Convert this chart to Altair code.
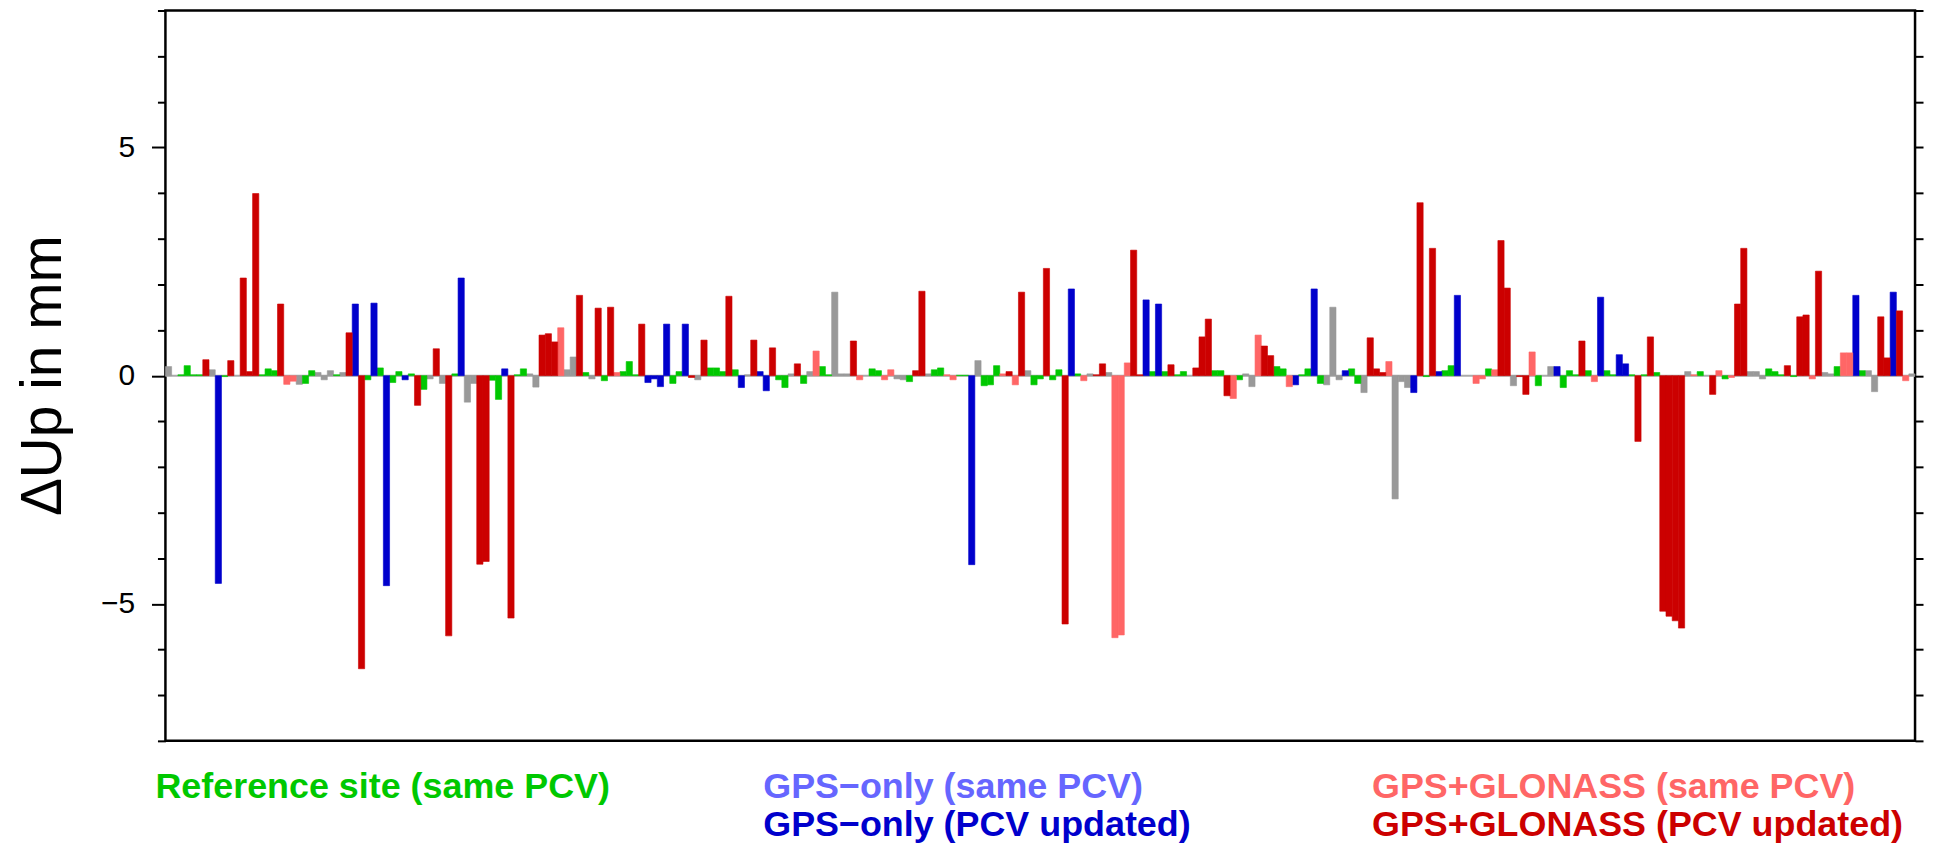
import altair as alt
import pandas as pd

N_SLOTS = 281

# --- series data: slot index along the x axis and ΔUp value (mm) ---
gray_slot = [0, 7, 21, 24, 25, 26, 28, 42, 44, 48, 49, 58, 59, 64, 65, 68, 85, 93, 100, 103,
             107, 108, 109, 117, 118, 122, 130, 138, 148, 151, 173, 174, 186, 187, 188, 192,
             197, 198, 199, 216, 222, 244, 254, 255, 256, 266, 267, 273, 274, 280]
gray_val = [0.20, 0.13, -0.19, 0.07, -0.09, 0.11, 0.07, -0.07, -0.17, -0.58, -0.17, 0.04, -0.25,
            0.13, 0.41, -0.07, -0.09, 0.02, 0.04, 0.09, 1.83, 0.04, 0.04, -0.07, -0.09, 0.04,
            0.33, 0.11, 0.04, 0.07, 0.04, -0.24, -0.20, 1.50, -0.09, -0.37, -2.70, -0.13, -0.26,
            -0.22, 0.20, 0.09, 0.09, 0.09, -0.07, 0.07, 0.04, 0.11, -0.35, 0.04]

ref_slot = [2, 3, 4, 5, 9, 15, 16, 17, 22, 23, 27, 32, 34, 36, 37, 39, 41, 46, 52, 53, 56, 57,
            67, 70, 73, 74, 75, 81, 82, 87, 88, 89, 91, 98, 99, 102, 105, 106, 113, 114, 119,
            123, 124, 127, 128, 131, 132, 133, 139, 140, 142, 143, 146, 158, 160, 162, 163,
            168, 169, 172, 178, 179, 182, 183, 185, 190, 191, 202, 205, 206, 212, 220, 224,
            225, 226, 228, 231, 232, 235, 237, 239, 246, 250, 257, 258, 259, 261, 268, 272]
ref_val = [0.02, 0.22, 0.02, 0.02, -0.02, 0.02, 0.15, 0.11, -0.17, 0.11, 0.02, -0.09, 0.17,
           -0.15, 0.09, 0.04, -0.30, 0.04, -0.10, -0.52, 0.02, 0.15, 0.07, -0.11, 0.09, 0.31,
           0.02, -0.17, 0.09, 0.17, 0.17, 0.09, 0.13, -0.09, -0.26, -0.17, 0.20, 0.02, 0.15,
           0.11, -0.13, 0.13, 0.17, 0.01, 0.01, -0.22, -0.20, 0.22, -0.20, -0.07, -0.09, 0.13,
           0.04, 0.09, 0.09, 0.02, 0.09, 0.11, 0.11, -0.09, 0.20, 0.15, 0.02, 0.15, -0.17,
           0.15, -0.17, -0.02, 0.11, 0.22, 0.15, -0.22, -0.26, 0.11, 0.02, 0.11, 0.11, 0.02,
           0.02, 0.02, 0.07, 0.09, -0.07, 0.15, 0.09, 0.02, -0.02, 0.20, 0.11]

gps_upd_slot = [8, 30, 33, 35, 38, 47, 54, 77, 78, 79, 80, 83, 92, 95, 96, 129, 145, 157, 159,
                181, 184, 189, 200, 204, 207, 223, 230, 233, 234, 271, 277]
gps_upd_val = [-4.55, 1.57, 1.59, -4.60, -0.09, 2.14, 0.15, -0.15, -0.07, -0.24, 1.13, 1.13,
               -0.26, 0.09, -0.33, -4.14, 1.90, 1.66, 1.57, -0.20, 1.90, 0.11, -0.37, 0.09,
               1.76, 0.20, 1.72, 0.46, 0.26, 1.76, 1.83]

glo_same_slot = [19, 20, 63, 72, 104, 111, 115, 116, 125, 126, 134, 136, 147, 152, 153, 154,
                 171, 175, 180, 196, 210, 211, 213, 219, 229, 245, 249, 251, 264, 269, 270, 279]
glo_same_val = [-0.19, -0.12, 1.05, 0.07, 0.54, -0.09, -0.09, 0.13, 0.02, -0.09, 0.04, -0.20,
                -0.11, -5.74, -5.68, 0.28, -0.50, 0.89, -0.24, 0.31, -0.17, -0.07, 0.13, 0.52,
                -0.13, 0.02, 0.11, -0.04, -0.07, 0.50, 0.50, -0.11]

glo_upd_slot = [6, 10, 12, 13, 14, 18, 29, 31, 40, 43, 45, 50, 51, 55, 60, 61, 62, 66, 69, 71,
                76, 84, 86, 90, 94, 97, 101, 110, 120, 121, 135, 137, 141, 144, 149, 150, 155,
                156, 161, 165, 166, 167, 170, 176, 177, 193, 194, 195, 201, 203, 214, 215, 217,
                218, 227, 236, 238, 240, 241, 242, 243, 248, 252, 253, 260, 262, 263, 265, 275,
                276, 278]
glo_upd_val = [0.35, 0.33, 2.14, 0.09, 3.99, 1.57, 0.94, -6.42, -0.65, 0.59, -5.70, -4.13,
               -4.07, -5.31, 0.89, 0.92, 0.74, 1.76, 1.48, 1.50, 1.13, -0.04, 0.78, 1.74, 0.78,
               0.61, 0.26, 0.76, 0.11, 1.85, 0.09, 1.83, 2.35, -5.44, 0.02, 0.26, 2.75, 0.02,
               0.24, 0.17, 0.85, 1.24, -0.44, 0.65, 0.44, 0.83, 0.15, 0.07, 3.79, 2.79, 2.96,
               1.92, -0.02, -0.41, 0.76, -1.44, 0.85, -5.16, -5.27, -5.37, -5.53, -0.41, 1.57,
               2.79, 0.22, 1.29, 1.33, 2.29, 1.29, 0.39, 1.42]

series_names = ["Other", "Reference site (same PCV)", "GPS−only (same PCV)",
                "GPS−only (PCV updated)", "GPS+GLONASS (same PCV)", "GPS+GLONASS (PCV updated)"]
series_colors = ["#999999", "#00c800", "#6666ff", "#0000cc", "#ff6666", "#cc0000"]

y_ticks = list(range(-8, 9))

series_data = [
    (series_names[0], gray_slot, gray_val),
    (series_names[1], ref_slot, ref_val),
    (series_names[3], gps_upd_slot, gps_upd_val),
    (series_names[4], glo_same_slot, glo_same_val),
    (series_names[5], glo_upd_slot, glo_upd_val),
]
rows = []
for name, slots, vals in series_data:
    for s, v in zip(slots, vals):
        rows.append({"slot": s, "series": name, "value": v})
df = pd.DataFrame(rows)

yscale = alt.Scale(domain=[-8, 8], nice=False, zero=False)
cscale = alt.Scale(domain=series_names, range=series_colors)
FONT = "Liberation Sans"

zero = alt.Chart(pd.DataFrame({"y": [0]})).mark_rule(color="#aaaaaa", strokeWidth=2).encode(
    y=alt.Y("y:Q", scale=yscale,
            axis=alt.Axis(orient="right", values=y_ticks, labels=False, tickSize=8,
                          title=None, domain=False, tickColor="black", tickWidth=2))
)

bars = alt.Chart(df).transform_calculate(slot_end="datum.slot + 1").mark_bar(
    strokeWidth=0.6
).encode(
    x=alt.X("slot:Q", scale=alt.Scale(domain=[0, N_SLOTS], nice=False, zero=False), axis=None),
    x2="slot_end:Q",
    y=alt.Y("value:Q", scale=yscale,
            axis=alt.Axis(orient="left", values=y_ticks,
                          labelExpr="(datum.value == 0 || abs(datum.value) == 5) ? datum.label : ''",
                          tickSize={"condition": {"test": "datum.value % 5 == 0", "value": 14}, "value": 8},
                          labelFont=FONT, labelFontSize=30, labelPadding=17, labelColor="black",
                          tickColor="black", tickWidth=2, domain=False,
                          title="ΔUp in mm", titleFont=FONT, titleFontSize=57,
                          titleFontWeight="normal", titleColor="black", titleAngle=270,
                          titleX=-105, titleY=366, titleAlign="center",
                          titleBaseline="alphabetic")),
    y2=alt.datum(0),
    color=alt.Color("series:N", scale=cscale, legend=None),
    stroke=alt.Stroke("series:N", scale=cscale, legend=None),
)

legend_pos = {
    series_names[1]: (-10, 790),
    series_names[2]: (600, 790),
    series_names[3]: (600, 828),
    series_names[4]: (1211, 790),
    series_names[5]: (1211, 828),
}
texts = []
for name, color in zip(series_names, series_colors):
    if name not in legend_pos:
        continue
    px, py = legend_pos[name]
    texts.append(
        alt.Chart(pd.DataFrame({"label": [name]})).mark_text(
            align="left", baseline="alphabetic", font=FONT, fontSize=36,
            fontWeight="bold", color=color
        ).encode(x=alt.value(px), y=alt.value(py), text="label:N")
    )

chart = alt.layer(zero, bars, *texts).resolve_scale(y="independent").properties(
    width=1756, height=733,
    autosize=alt.AutoSizeParams(type="none"),
    padding={"left": 158, "top": 1, "right": 12, "bottom": 104},
).configure_view(stroke="black", strokeWidth=2.5).configure_axis(grid=False)

chart.save("out.html", embed_options={"renderer": "svg", "actions": False})
